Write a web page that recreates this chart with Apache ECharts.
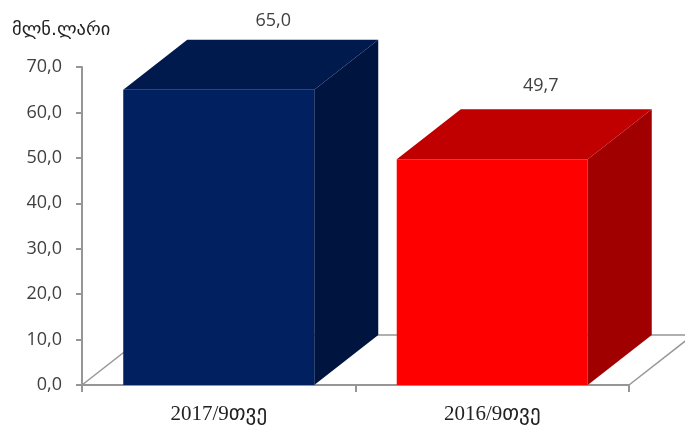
<!DOCTYPE html>
<html><head><meta charset="utf-8">
<style>html,body{margin:0;padding:0;background:#fff}#c{width:685px;height:430px}</style>
<script src="https://cdn.jsdelivr.net/npm/echarts@6/dist/echarts.min.js"></script>
</head><body><div id="c"></div>
<script>
const categories = ["2017/9თვე", "2016/9თვე"];
const values = [65.0, 49.7];
const valueLabels = ["65,0", "49,7"];
const frontColors = ["#002060", "#ff0000"];
const topColors = ["#001a4d", "#c00000"];
const sideColors = ["#001440", "#a00000"];
const unitLabel = "მლნ.ლარი";

const DX = 64, DY = -50, BAR_W = 191;
const LABEL_DX = [54.5, 48.5], LABEL_DY = [-69, -73];
const chart = echarts.init(document.getElementById("c"), null, {renderer: "canvas"});
const LINE = "#969696";
const sans = "'Open Sans', sans-serif";

chart.setOption({
  animation: false,
  backgroundColor: "#fff",
  title: {text: unitLabel, left: 7, top: 16,
    textStyle: {fontFamily: "'DejaVu Sans'", fontSize: 18.5, fontWeight: "normal", color: "#222"}},
  grid: {left: 82, right: 56, top: 67, bottom: 45},
  xAxis: {type: "category", data: categories, boundaryGap: true,
    axisLine: {lineStyle: {color: LINE, width: 2}},
    axisTick: {show: true, alignWithLabel: false, length: 7, lineStyle: {color: LINE, width: 2}},
    axisLabel: {margin: 19, fontFamily: "'Liberation Serif','DejaVu Sans'", fontSize: 21, color: "#222"}},
  yAxis: {type: "value", min: 0, max: 70, interval: 10,
    axisLine: {show: true, lineStyle: {color: LINE, width: 2}},
    axisTick: {show: true, length: 6, lineStyle: {color: LINE, width: 2}},
    splitLine: {show: false},
    axisLabel: {margin: 20, padding: [3, 0, 0, 0], fontFamily: sans, fontSize: 18, color: "#404040",
      formatter: v => v.toFixed(1).replace(".", ",")}},
  series: [
    {type: "custom", silent: true, z: 1, data: [0],
     renderItem(params, api) {
       const o = api.coord([0, 0]);
       const g = params.coordSys;
       const x0 = g.x, x1 = g.x + g.width, y = o[1];
       const style = {stroke: LINE, lineWidth: 1.5, fill: null};
       return {type: "group", children: [
         {type: "line", shape: {x1: x0, y1: y, x2: x0 + DX, y2: y + DY}, style},
         {type: "line", shape: {x1: x0 + DX, y1: y + DY, x2: x1 + DX, y2: y + DY}, style},
         {type: "line", shape: {x1, y1: y, x2: x1 + DX, y2: y + DY}, style}
       ]};
     }},
    {type: "custom", silent: true, z: 2,
     data: categories.map((c, i) => [i, values[i]]),
     encode: {x: 0, y: 1},
     renderItem(params, api) {
       const i = params.dataIndex;
       const top = api.coord([api.value(0), api.value(1)]);
       const base = api.coord([api.value(0), 0]);
       const l = top[0] - BAR_W / 2, r = top[0] + BAR_W / 2, t = top[1], b = base[1];
       return {type: "group", children: [
         {type: "polygon", shape: {points: [[r, t], [r + DX, t + DY], [r + DX, b + DY], [r, b]]}, style: {fill: sideColors[i]}},
         {type: "polygon", shape: {points: [[l, t], [l + DX, t + DY], [r + DX, t + DY], [r, t]]}, style: {fill: topColors[i]}},
         {type: "rect", shape: {x: l, y: t, width: BAR_W, height: b - t}, style: {fill: frontColors[i]}},
         {type: "text", style: {text: valueLabels[i], x: top[0] + LABEL_DX[i], y: t + LABEL_DY[i], align: "center", verticalAlign: "middle",
           fontFamily: sans, fontSize: 18, fill: "#404040"}}
       ]};
     }}
  ]
});
</script></body></html>
